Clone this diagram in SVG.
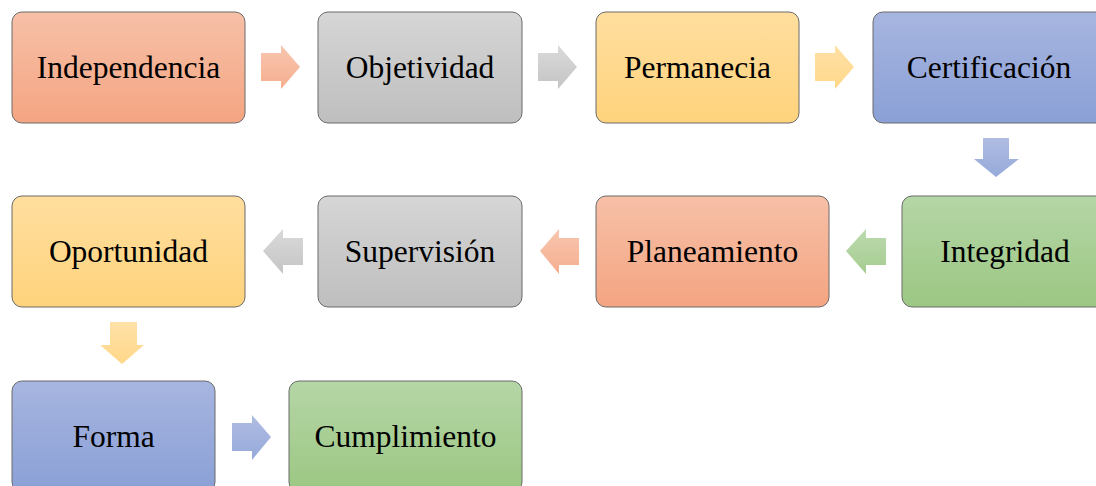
<svg xmlns="http://www.w3.org/2000/svg" width="1096" height="486" viewBox="0 0 1096 486">
<defs>
<linearGradient id="gO" x1="0" y1="0" x2="0" y2="1"><stop offset="0" stop-color="#F7C0A7"/><stop offset="1" stop-color="#F4A582"/></linearGradient>
<linearGradient id="gG" x1="0" y1="0" x2="0" y2="1"><stop offset="0" stop-color="#D6D6D6"/><stop offset="1" stop-color="#BEBEBE"/></linearGradient>
<linearGradient id="gY" x1="0" y1="0" x2="0" y2="1"><stop offset="0" stop-color="#FFDE9E"/><stop offset="1" stop-color="#FFD37C"/></linearGradient>
<linearGradient id="gB" x1="0" y1="0" x2="0" y2="1"><stop offset="0" stop-color="#A7B5E0"/><stop offset="1" stop-color="#8AA0D6"/></linearGradient>
<linearGradient id="gN" x1="0" y1="0" x2="0" y2="1"><stop offset="0" stop-color="#B5D6A6"/><stop offset="1" stop-color="#9CC783"/></linearGradient>
</defs>
<style>
.box{stroke:#6B6B6B;stroke-width:1}
.lbl{font-family:"Liberation Serif","Times New Roman",serif;font-size:31.5px;fill:#000;text-anchor:middle}
.arr{opacity:0.9}
</style>
<g id="connectors">
<path class="arr" fill="url(#gO)" d="M261,53 H281 V45 L300,67 L281,89 V81 H261 Z"/>
<path class="arr" fill="url(#gG)" d="M538,53 H558 V45 L577,67 L558,89 V81 H538 Z"/>
<path class="arr" fill="url(#gY)" d="M815,53 H835 V45 L854,67 L835,89 V81 H815 Z"/>
<path class="arr" fill="url(#gB)" d="M983,138 H1009 V159 H1019 L996,177 L974,159 H983 Z"/>
<path class="arr" fill="url(#gN)" d="M886,238 H866 V229 L846,251 L866,274 V265 H886 Z"/>
<path class="arr" fill="url(#gO)" d="M579,238 H559 V229 L540,251 L559,274 V265 H579 Z"/>
<path class="arr" fill="url(#gG)" d="M303,238 H283 V229 L263,251 L283,274 V265 H303 Z"/>
<path class="arr" fill="url(#gY)" d="M110,322 H137 V345 H144 L122,364 L100,345 H110 Z"/>
<path class="arr" fill="url(#gB)" d="M232,423 H252 V415 L271,437 L252,460 V451 H232 Z"/>
</g>
<g id="n1"><rect class="box" x="12" y="12" width="233" height="111" rx="10" fill="url(#gO)"/><text class="lbl" x="128.5" y="78">Independencia</text></g>
<g id="n2"><rect class="box" x="318" y="12" width="204" height="111" rx="10" fill="url(#gG)"/><text class="lbl" x="420" y="78">Objetividad</text></g>
<g id="n3"><rect class="box" x="596" y="12" width="203" height="111" rx="10" fill="url(#gY)"/><text class="lbl" x="697.5" y="78">Permanecia</text></g>
<g id="n4"><rect class="box" x="873" y="12" width="240" height="111" rx="10" fill="url(#gB)"/><text class="lbl" x="989" y="78">Certificación</text></g>
<g id="n5"><rect class="box" x="902" y="196" width="210" height="111" rx="10" fill="url(#gN)"/><text class="lbl" x="1005" y="262">Integridad</text></g>
<g id="n6"><rect class="box" x="596" y="196" width="233" height="111" rx="10" fill="url(#gO)"/><text class="lbl" x="712.5" y="262">Planeamiento</text></g>
<g id="n7"><rect class="box" x="318" y="196" width="204" height="111" rx="10" fill="url(#gG)"/><text class="lbl" x="420" y="262">Supervisión</text></g>
<g id="n8"><rect class="box" x="12" y="196" width="233" height="111" rx="10" fill="url(#gY)"/><text class="lbl" x="128.5" y="262">Oportunidad</text></g>
<g id="n9"><rect class="box" x="12" y="381" width="203" height="111" rx="10" fill="url(#gB)"/><text class="lbl" x="113.5" y="447">Forma</text></g>
<g id="n10"><rect class="box" x="289" y="381" width="233" height="111" rx="10" fill="url(#gN)"/><text class="lbl" x="405.5" y="447">Cumplimiento</text></g>
</svg>
